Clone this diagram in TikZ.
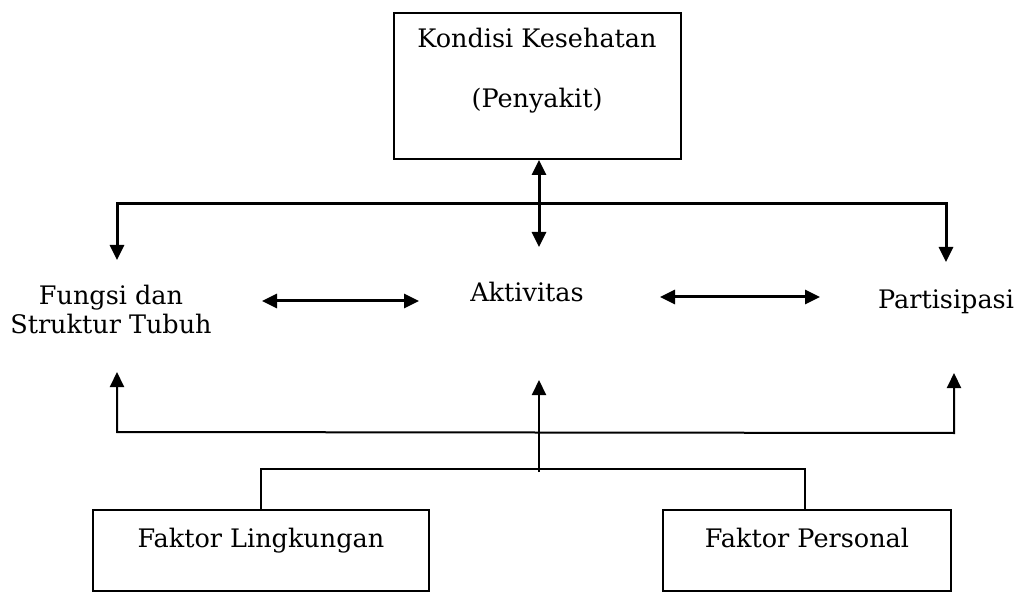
\documentclass[tikz,border=0pt]{standalone}
\usepackage{fontspec}
\setmainfont{DejaVu Serif}
\usetikzlibrary{arrows.meta}
\begin{document}
\begin{tikzpicture}[x=1pt,y=-1pt,
  txt/.style={font=\fontsize{25.5}{30}\selectfont, inner sep=0pt, anchor=base},
  boxed/.style={draw, line width=2pt, inner sep=0pt},
  thickline/.style={line width=3pt},
  thinline/.style={line width=2pt},
  tip/.style={-{Triangle[length=15pt,width=14pt]}},
  tips/.style={{Triangle[length=15pt,width=14pt]}-{Triangle[length=15pt,width=14pt]}}]
\useasboundingbox (0,0) rectangle (1033,593);
% top box
\node[boxed, minimum width=287, minimum height=146] (kk) at (537,86) {};
\node[txt] (kk1) at (537,48) {Kondisi Kesehatan};
\node[txt] (kk2) at (537,108) {(Penyakit)};
% middle texts
\node[txt] (fs1) at (111,305) {Fungsi dan};
\node[txt] (fs2) at (111,334) {Struktur Tubuh};
\node[txt] (ak) at (527,302) {Aktivitas};
\node[txt] (pa) at (946,309) {Partisipasi};
% bottom boxes
\node[boxed, minimum width=336, minimum height=81] (fl) at (261,550.5) {};
\node[txt] (flt) at (261,547) {Faktor Lingkungan};
\node[boxed, minimum width=288, minimum height=81] (fp) at (807,550.5) {};
\node[txt] (fpt) at (807,547) {Faktor Personal};
% coordinates
\coordinate (mtip) at (539,247);
\coordinate (tL) at (117,260);
\coordinate (cL) at (117,204);
\coordinate (cR) at (946,204);
\coordinate (tR) at (946,262);
\coordinate (uL) at (117,372);
\coordinate (bL) at (117,432);
\coordinate (bR) at (954,433);
\coordinate (uR) at (954,373);
\coordinate (mup) at (539,380);
\coordinate (mbase) at (539,472);
\coordinate (lL) at (261,469);
\coordinate (lR) at (805,469);
% top connectors
\draw[thickline, tips] (kk.south -| mtip) -- (mtip);
\draw[thickline, tips] (tL) -- (cL) -- (cR) -- (tR);
% horizontal double arrows
\draw[thickline, tips] (262,301) -- (419,301);
\draw[thickline, tips] (660,297) -- (820,297);
% bottom connectors
\draw[thinline, tips] (uL) -- (bL) -- (bR) -- (uR);
\draw[thinline, tip] (mbase) -- (mup);
\draw[thinline] (fl.north -| lL) -- (lL) -- (lR) -- (fp.north -| lR);
\end{tikzpicture}
\end{document}
